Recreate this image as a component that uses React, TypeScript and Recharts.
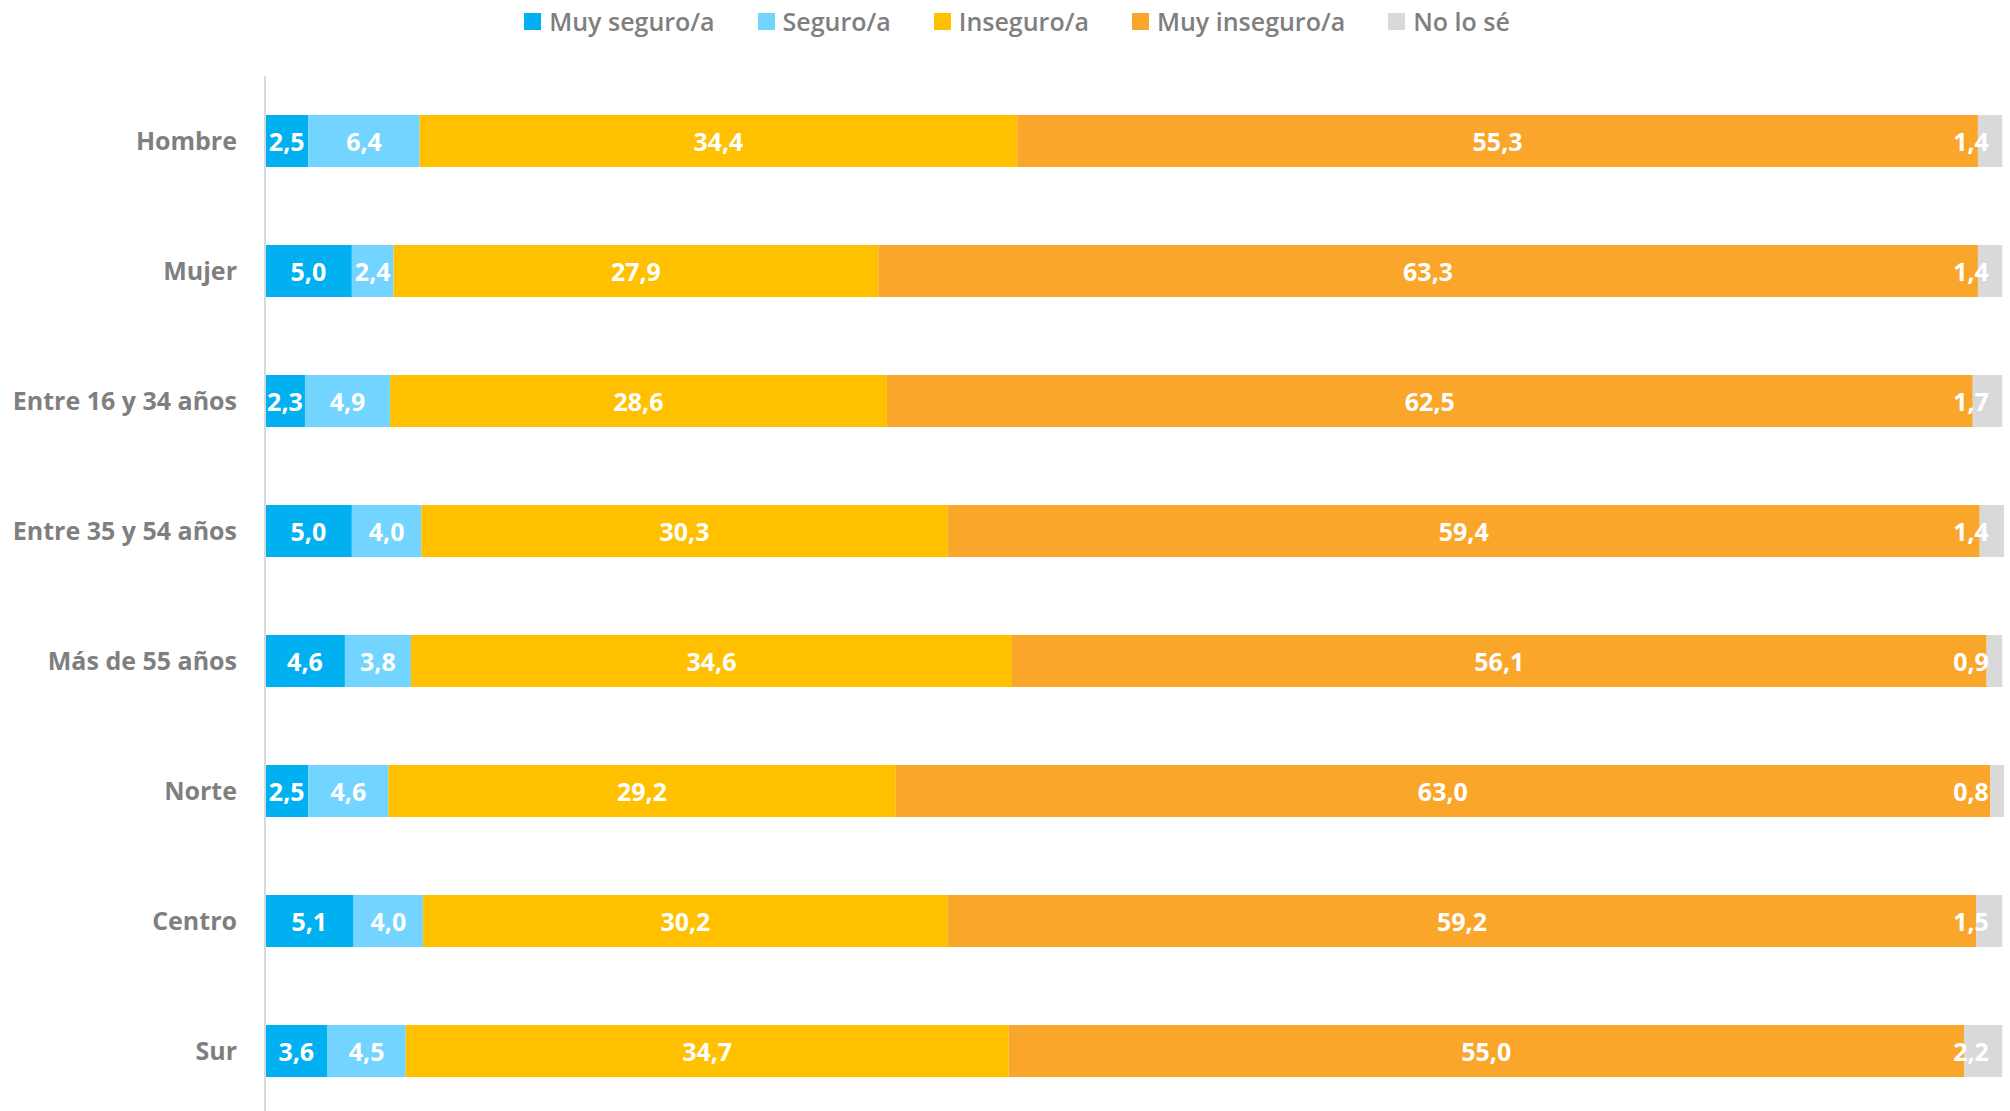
import { BarChart, Bar, XAxis, YAxis, Legend, LabelList } from "recharts"

const categories = [
  "Hombre",
  "Mujer",
  "Entre 16 y 34 años",
  "Entre 35 y 54 años",
  "Más de 55 años",
  "Norte",
  "Centro",
  "Sur",
]
const muySeguro = [2.5, 5.0, 2.3, 5.0, 4.6, 2.5, 5.1, 3.6]
const seguro = [6.4, 2.4, 4.9, 4.0, 3.8, 4.6, 4.0, 4.5]
const inseguro = [34.4, 27.9, 28.6, 30.3, 34.6, 29.2, 30.2, 34.7]
const muyInseguro = [55.3, 63.3, 62.5, 59.4, 56.1, 63.0, 59.2, 55.0]
const noLoSe = [1.4, 1.4, 1.7, 1.4, 0.9, 0.8, 1.5, 2.2]

const seriesNames = ["Muy seguro/a", "Seguro/a", "Inseguro/a", "Muy inseguro/a", "No lo sé"]
const seriesKeys = ["muySeguro", "seguro", "inseguro", "muyInseguro", "noLoSe"]
const seriesColors = ["#00B0F0", "#72D4FF", "#FFC000", "#F9A62B", "#D9D9D9"]

const data = categories.map((name, i) => ({
  name,
  muySeguro: muySeguro[i],
  seguro: seguro[i],
  inseguro: inseguro[i],
  muyInseguro: muyInseguro[i],
  noLoSe: noLoSe[i],
}))

const W = 2010
const H = 1120
const FONT = "'Open Sans', sans-serif"
const LABEL_LIMIT = W - 6 - 15

const fmt = (v: number) => v.toFixed(1).replace(".", ",")

function SegmentLabel(props: any) {
  const { x, y, width, height, value } = props
  if (value == null) return null
  const half = 18
  const cx = Math.min(x + width / 2, LABEL_LIMIT - half)
  return (
    <text
      x={cx}
      y={y + height / 2}
      textAnchor="middle"
      dominantBaseline="central"
      fill="#fff"
      fontFamily={FONT}
      fontWeight={700}
      fontSize={25}
    >
      {fmt(Number(value))}
    </text>
  )
}

function LegendContent() {
  return (
    <div
      style={{
        height: 42,
        display: "flex",
        justifyContent: "center",
        alignItems: "center",
        gap: 43,
        fontFamily: FONT,
        fontSize: 25,
        fontWeight: 600,
        color: "#7F7F7F",
        paddingLeft: 30,
      }}
    >
      {seriesNames.map((n, i) => (
        <div key={n} style={{ display: "flex", alignItems: "center", gap: 8 }}>
          <span style={{ width: 17, height: 17, background: seriesColors[i], display: "inline-block" }} />
          <span>{n}</span>
        </div>
      ))}
    </div>
  )
}

export default function App() {
  return (
    <div style={{ position: "absolute", left: 0, top: 0, width: W, height: 1111, overflow: "hidden", background: "#fff" }}>
      <BarChart
        width={W}
        height={H}
        data={data}
        layout="vertical"
        margin={{ top: 34, right: 6, bottom: 4, left: 0 }}
      >
        <Legend verticalAlign="top" align="center" wrapperStyle={{ top: 0 }} content={<LegendContent />} />
        <XAxis type="number" domain={[0, 100]} hide />
        <YAxis
          type="category"
          dataKey="name"
          width={265}
          axisLine={{ stroke: "#D9D9D9", strokeWidth: 2 }}
          tickLine={false}
          tickSize={0}
          tickMargin={28}
          tick={{ fill: "#7F7F7F", fontFamily: FONT, fontWeight: 700, fontSize: 25 }}
          interval={0}
        />
        {seriesKeys.map((k, i) => (
          <Bar
            key={k}
            dataKey={k}
            name={seriesNames[i]}
            stackId="a"
            fill={seriesColors[i]}
            barSize={52}
            isAnimationActive={false}
          >
            <LabelList dataKey={k} content={<SegmentLabel />} />
          </Bar>
        ))}
      </BarChart>
    </div>
  )
}
